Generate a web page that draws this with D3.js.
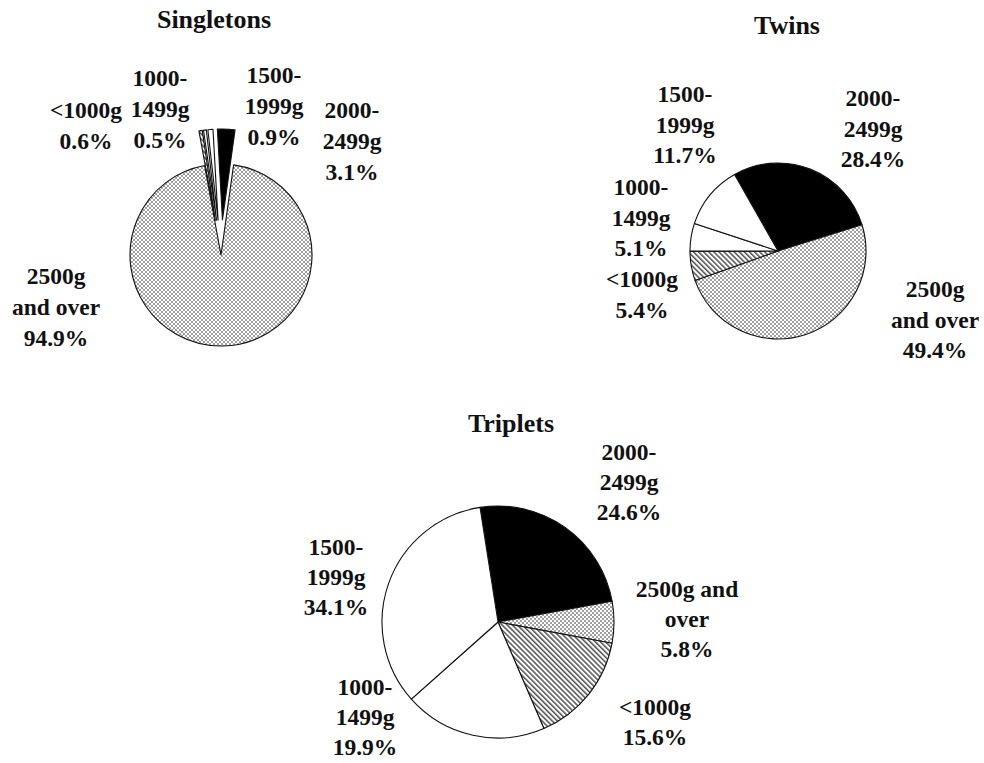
<!DOCTYPE html>
<html>
<head>
<meta charset="utf-8">
<script src="https://cdn.jsdelivr.net/npm/d3@7"></script>
<style>
  html, body { margin: 0; padding: 0; background: #fff; }
  svg { display: block; }
  text { font-family: "Liberation Serif", "Times New Roman", Times, serif; font-weight: bold; fill: #111; }
</style>
</head>
<body>
<svg id="chart" width="984" height="763"></svg>
<script>
// Birth-weight categories, in drawing order (clockwise from each pie's start angle)
const categories = ["2000-2499g", "2500g and over", "<1000g", "1000-1499g", "1500-1999g"];

// Percentage of births in each weight category
const singletons = [3.1, 94.9, 0.6, 0.5, 0.9];
const twins = [28.4, 49.4, 5.4, 5.1, 11.7];
const triplets = [24.6, 5.8, 15.6, 19.9, 34.1];

// Text lines of each category label (the percentage is added as the last line)
const labelLines = {
  "2000-2499g": ["2000-", "2499g"],
  "2500g and over": ["2500g", "and over"],
  "<1000g": ["<1000g"],
  "1000-1499g": ["1000-", "1499g"],
  "1500-1999g": ["1500-", "1999g"]
};
const labelLinesTriplets = Object.assign({}, labelLines, { "2500g and over": ["2500g and", "over"] });

// Fill for each category
const fills = {
  "2000-2499g": "#000",
  "2500g and over": "url(#dots)",
  "<1000g": "url(#hatch)",
  "1000-1499g": "#fff",
  "1500-1999g": "#fff"
};

const deg = Math.PI / 180;

const charts = [
  {
    title: "Singletons", titleX: 214, titleY: 28,
    values: singletons, cx: 221, cy: 255, r: 91, start: -3.2 * deg,
    explode: 35, lines: labelLines, step: 31,
    labels: {
      "<1000g": [86, 118], "1000-1499g": [160, 86], "1500-1999g": [274, 83],
      "2000-2499g": [352, 118], "2500g and over": [56, 284]
    }
  },
  {
    title: "Twins", titleX: 787, titleY: 34,
    values: twins, cx: 778, cy: 251, r: 88, start: -29.6 * deg,
    explode: 0, lines: labelLines, step: 30.5,
    labels: {
      "1500-1999g": [685, 102], "2000-2499g": [873, 106], "1000-1499g": [641, 195],
      "<1000g": [642, 287], "2500g and over": [935, 297]
    }
  },
  {
    title: "Triplets", titleX: 511, titleY: 432,
    values: triplets, cx: 498, cy: 622, r: 116, start: -8.9 * deg,
    explode: 0, lines: labelLinesTriplets, step: 30,
    labels: {
      "2000-2499g": [629, 460], "1500-1999g": [336, 555], "2500g and over": [687, 597],
      "1000-1499g": [365, 695], "<1000g": [655, 715]
    }
  }
];

const svg = d3.select("#chart");
const defs = svg.append("defs");

// Fine stipple for the heaviest category
const dots = defs.append("pattern")
  .attr("id", "dots").attr("patternUnits", "userSpaceOnUse")
  .attr("width", 4).attr("height", 4);
dots.append("rect").attr("width", 4).attr("height", 4).attr("fill", "#fff");
dots.append("circle").attr("cx", 1).attr("cy", 1).attr("r", 0.8).attr("fill", "#222");
dots.append("circle").attr("cx", 3).attr("cy", 3).attr("r", 0.8).attr("fill", "#222");

// Diagonal hatching for the lightest category
const hatch = defs.append("pattern")
  .attr("id", "hatch").attr("patternUnits", "userSpaceOnUse")
  .attr("width", 3.6).attr("height", 3.6)
  .attr("patternTransform", "rotate(-45)");
hatch.append("rect").attr("width", 3.6).attr("height", 3.6).attr("fill", "#fff");
hatch.append("line").attr("x1", 0.8).attr("y1", 0).attr("x2", 0.8).attr("y2", 3.6)
  .attr("stroke", "#111").attr("stroke-width", 1.1);

charts.forEach(c => {
  const data = categories.map((k, i) => ({ key: k, value: c.values[i] }));
  const pie = d3.pie().sort(null).value(d => d.value)
    .startAngle(c.start).endAngle(c.start + 2 * Math.PI);
  const arc = d3.arc().innerRadius(0).outerRadius(c.r);

  const g = svg.append("g").attr("transform", `translate(${c.cx},${c.cy})`);
  g.selectAll("path").data(pie(data)).join("path")
    .attr("d", arc)
    .attr("fill", d => fills[d.data.key])
    .attr("stroke", "#111")
    .attr("stroke-width", 1.1)
    .attr("stroke-linejoin", "round")
    .attr("transform", d => {
      // Pull the small slices out of the singleton pie
      if (!c.explode || d.data.key === "2500g and over") return null;
      const mid = (d.startAngle + d.endAngle) / 2;
      return `translate(${c.explode * Math.sin(mid)},${-c.explode * Math.cos(mid)})`;
    });

  svg.append("text")
    .attr("x", c.titleX).attr("y", c.titleY)
    .attr("text-anchor", "middle")
    .attr("font-size", 26)
    .text(c.title);

  data.forEach(d => {
    const [lx, ly] = c.labels[d.key];
    const lines = c.lines[d.key].concat([d.value.toFixed(1) + "%"]);
    const t = svg.append("text")
      .attr("text-anchor", "middle")
      .attr("font-size", 23.5);
    lines.forEach((s, i) => {
      t.append("tspan").attr("x", lx).attr("y", ly + i * c.step).text(s);
    });
  });
});
</script>
</body>
</html>
